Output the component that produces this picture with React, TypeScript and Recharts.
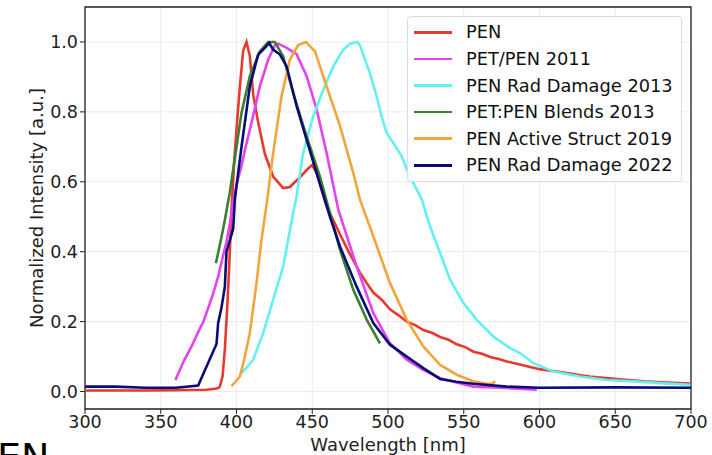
import { LineChart, Line, XAxis, YAxis, CartesianGrid, Legend, ReferenceArea } from 'recharts';

// wavelength [nm] / normalized intensity
const penWl = [300, 320, 340, 360, 380, 386, 388, 389, 390.8, 392.3, 394, 395.2, 396.7, 398.5, 400.5, 402.2, 404.4, 406.6, 408.8, 411, 414.3, 418.7, 424.2, 430.8, 435.2, 441.9, 447.3, 450, 452.9, 459.5, 463.9, 468.3, 474, 481.5, 486, 490.3, 496, 501.3, 507, 512.4, 518, 523.3, 529, 534.4, 540, 545.4, 551, 556.4, 562, 567.4, 573, 578.4, 587, 600, 618, 633, 651, 669, 684, 700];
const penInt = [0.003, 0.003, 0.003, 0.004, 0.005, 0.008, 0.01, 0.014, 0.043, 0.12, 0.25, 0.36, 0.52, 0.66, 0.78, 0.87, 0.975, 1.0, 0.96, 0.85, 0.77, 0.68, 0.615, 0.582, 0.585, 0.613, 0.638, 0.648, 0.625, 0.53, 0.49, 0.45, 0.4, 0.34, 0.31, 0.283, 0.262, 0.235, 0.218, 0.2, 0.19, 0.176, 0.168, 0.156, 0.148, 0.135, 0.127, 0.114, 0.108, 0.099, 0.093, 0.086, 0.077, 0.064, 0.053, 0.043, 0.036, 0.029, 0.026, 0.023];

const petPenWl = [359.7, 365, 370.3, 375.8, 378, 381, 384.6, 388, 391.2, 393.5, 395.6, 398, 400.5, 403.3, 405.5, 409.9, 415.4, 420.9, 425.3, 427.5, 433.1, 439.7, 446.3, 452.9, 459.5, 467.2, 479.3, 490.3, 501.3, 512.4, 523.3, 534.4, 556.4, 578.4, 598.2];
const petPenInt = [0.033, 0.085, 0.129, 0.18, 0.198, 0.235, 0.28, 0.33, 0.39, 0.43, 0.48, 0.55, 0.6, 0.645, 0.69, 0.768, 0.873, 0.949, 0.99, 0.995, 0.983, 0.965, 0.902, 0.807, 0.682, 0.52, 0.358, 0.224, 0.138, 0.091, 0.062, 0.038, 0.014, 0.01, 0.005];

const rad2013Wl = [403.3, 407, 411, 417.6, 424.2, 430.8, 434.1, 437.4, 439.7, 444, 450.6, 457.3, 463.9, 470.5, 475, 479.3, 481.5, 484.8, 488.1, 492.5, 495.8, 499.1, 503.5, 509.1, 512.4, 519, 522.3, 527.8, 534.4, 541, 549.8, 558.6, 569.6, 580.6, 587.2, 596, 609.2, 626.8, 644.4, 662, 679.7, 699.5];
const rad2013Int = [0.053, 0.07, 0.091, 0.167, 0.262, 0.358, 0.434, 0.51, 0.56, 0.682, 0.787, 0.863, 0.93, 0.978, 0.995, 1.0, 0.991, 0.949, 0.911, 0.844, 0.787, 0.74, 0.711, 0.673, 0.635, 0.577, 0.549, 0.472, 0.396, 0.32, 0.253, 0.205, 0.157, 0.124, 0.11, 0.081, 0.057, 0.043, 0.033, 0.029, 0.024, 0.019];

const blendsWl = [386.4, 390, 392.3, 395.6, 397.8, 403.3, 408.8, 415.4, 420.9, 425.3, 430.8, 437.4, 446.3, 455.1, 461.7, 468.3, 477.1, 486, 494.7];
const blendsInt = [0.367, 0.44, 0.49, 0.57, 0.635, 0.797, 0.902, 0.973, 1.0, 1.0, 0.959, 0.854, 0.73, 0.615, 0.51, 0.406, 0.291, 0.205, 0.138];

const activeWl = [396.7, 402.2, 405, 408.8, 413.2, 416.5, 420.3, 424.2, 429.7, 435.2, 440.7, 445.8, 451.8, 459.5, 468.3, 477.1, 481.5, 490.3, 501.3, 512.4, 523.3, 534.4, 545.4, 556.4, 565.2, 569, 570.7];
const activeInt = [0.015, 0.043, 0.09, 0.167, 0.31, 0.434, 0.549, 0.682, 0.844, 0.949, 0.991, 1.0, 0.973, 0.873, 0.76, 0.625, 0.549, 0.444, 0.31, 0.205, 0.129, 0.076, 0.048, 0.029, 0.022, 0.022, 0.03];

const rad2022Wl = [300, 320, 340, 360, 374.7, 386.8, 387.9, 390.1, 392.3, 393.4, 397.8, 398.9, 403.3, 408.8, 414.3, 418.7, 421.6, 424.2, 428.7, 433.1, 439.7, 446.3, 452.9, 461.7, 468.3, 479.3, 490.3, 501.3, 512.4, 523.3, 534.4, 545, 556.4, 578.4, 600, 650, 700];
const rad2022Int = [0.014, 0.014, 0.011, 0.011, 0.017, 0.136, 0.196, 0.24, 0.3, 0.4, 0.465, 0.55, 0.7, 0.873, 0.964, 0.983, 0.997, 0.978, 0.964, 0.93, 0.816, 0.72, 0.625, 0.5, 0.415, 0.3, 0.196, 0.134, 0.1, 0.067, 0.036, 0.028, 0.022, 0.014, 0.011, 0.012, 0.011];

const xTicks = [300, 350, 400, 450, 500, 550, 600, 650, 700];
const yTicks = [0, 0.2, 0.4, 0.6, 0.8, 1.0];

const toPoints = (wl: number[], val: number[]) => wl.map((x, i) => ({ x, y: val[i] }));

const series = [
  { name: 'PEN', color: '#e63a2e', data: toPoints(penWl, penInt) },
  { name: 'PET/PEN 2011', color: '#e542f0', data: toPoints(petPenWl, petPenInt) },
  { name: 'PEN Rad Damage 2013', color: '#62f0f0', data: toPoints(rad2013Wl, rad2013Int) },
  { name: 'PET:PEN Blends 2013', color: '#3d7f30', data: toPoints(blendsWl, blendsInt) },
  { name: 'PEN Active Struct 2019', color: '#f3a43a', data: toPoints(activeWl, activeInt) },
  { name: 'PEN Rad Damage 2022', color: '#0b0b78', data: toPoints(rad2022Wl, rad2022Int) },
];

const FONT = '"DejaVu Sans", sans-serif';

function LegendBox() {
  return (
    <div
      style={{
        width: 275,
        height: 166,
        border: '1px solid #dcdcdc',
        borderRadius: 4,
        background: 'rgba(255,255,255,0.85)',
        boxSizing: 'border-box',
        paddingTop: 2,
        fontFamily: FONT,
      }}
    >
      {series.map((s) => (
        <div key={s.name} style={{ display: 'flex', alignItems: 'center', height: 26.6 }}>
          <span style={{ display: 'inline-block', width: 38, height: 2.6, background: s.color, marginLeft: 6, marginRight: 14 }} />
          <span style={{ fontSize: 17.8, color: '#111', lineHeight: 1 }}>{s.name}</span>
        </div>
      ))}
    </div>
  );
}

export default function App() {
  return (
    <div style={{ position: 'absolute', left: 0, top: 0, width: 712, height: 455, overflow: 'hidden', background: '#fff' }}>
      <LineChart width={712} height={455} margin={{ top: 7, right: 21, left: 0, bottom: 0 }} style={{ fontFamily: FONT }}>
        <CartesianGrid stroke="#ebebeb" strokeWidth={1} />
        <XAxis
          type="number"
          dataKey="x"
          domain={[300, 700]}
          ticks={xTicks}
          allowDataOverflow
          height={46}
          axisLine={false}
          tickSize={5}
          tickLine={{ stroke: '#222' }}
          tick={{ fontSize: 17.5, fill: '#222' }}
          label={{
            content: () => (
              <text x={388} y={444} textAnchor="middle" dominantBaseline="central" fontSize={18} fill="#222">
                Wavelength [nm]
              </text>
            ),
          }}
        />
        <YAxis
          type="number"
          domain={[-0.05, 1.1]}
          ticks={yTicks}
          allowDataOverflow
          width={85}
          axisLine={false}
          tickSize={5}
          tickLine={{ stroke: '#222' }}
          tick={{ fontSize: 17.5, fill: '#222' }}
          tickFormatter={(v: number) => v.toFixed(1)}
          label={{
            content: () => (
              <text x={36} y={208} transform="rotate(-90 36 208)" textAnchor="middle" dominantBaseline="central" fontSize={18} fill="#222">
                Normalized Intensity [a.u.]
              </text>
            ),
          }}
        />
        {series.map((s) => (
          <Line
            key={s.name}
            data={s.data}
            dataKey="y"
            name={s.name}
            type="linear"
            stroke={s.color}
            strokeWidth={2.6}
            dot={false}
            activeDot={false}
            isAnimationActive={false}
          />
        ))}
        <ReferenceArea x1={300} x2={700} y1={-0.05} y2={1.1} fill="none" stroke="#222" strokeWidth={1.3} />
        <Legend
          layout="vertical"
          align="center"
          verticalAlign="middle"
          wrapperStyle={{ left: 407, top: 16, width: 275 }}
          content={() => <LegendBox />}
        />
      </LineChart>
      <span
        style={{
          position: 'absolute',
          left: -26,
          top: 438,
          fontFamily: FONT,
          fontSize: 38,
          lineHeight: 1,
          color: '#000',
          whiteSpace: 'nowrap',
        }}
      >
        PEN
      </span>
    </div>
  );
}
